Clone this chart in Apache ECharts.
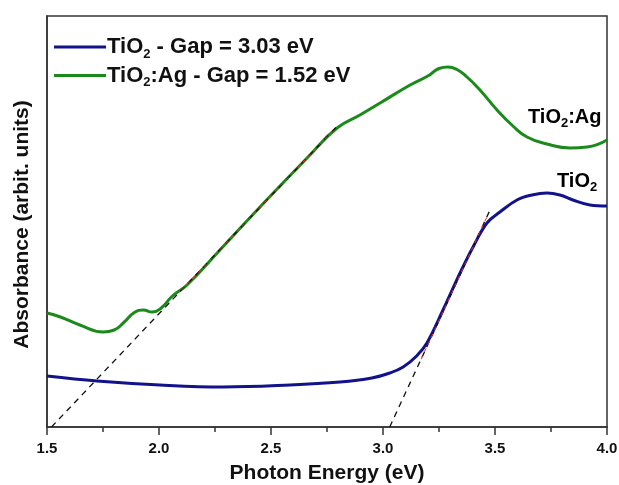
<!DOCTYPE html>
<html>
<head>
<meta charset="utf-8">
<script src="https://cdn.jsdelivr.net/npm/echarts@6/dist/echarts.min.js"></script>
<style>
  html, body { margin: 0; padding: 0; background: #fff; }
</style>
</head>
<body>
<div id="chart" style="width: 619px;height: 485px;"></div>
<script>
// photon energy (eV) / absorbance (arb. units)
var energyAg = [1.5, 1.56, 1.647, 1.75, 1.80, 1.845, 1.89, 1.93, 1.97, 2.01, 2.06, 2.125, 2.272, 2.451, 2.661, 2.795, 2.897, 2.987, 3.121, 3.2, 3.25, 3.29, 3.33, 3.375, 3.433, 3.509, 3.58, 3.643, 3.732, 3.835, 3.911, 4.0]
var absAg = [1.14, 1.10, 1.02, 0.95, 0.97, 1.05, 1.145, 1.17, 1.15, 1.19, 1.31, 1.42, 1.77, 2.20, 2.69, 2.99, 3.12, 3.24, 3.42, 3.51, 3.585, 3.60, 3.575, 3.50, 3.37, 3.17, 3.01, 2.90, 2.83, 2.79, 2.80, 2.87]
var energyTi = [1.5, 1.723, 2.004, 2.286, 2.585, 2.808, 2.95, 3.031, 3.09, 3.15, 3.196, 3.268, 3.344, 3.402, 3.464, 3.522, 3.598, 3.665, 3.732, 3.79, 3.848, 3.924, 4.0]
var absTi = [0.51, 0.46, 0.42, 0.40, 0.42, 0.45, 0.49, 0.54, 0.60, 0.71, 0.84, 1.17, 1.54, 1.80, 2.04, 2.15, 2.27, 2.32, 2.34, 2.32, 2.27, 2.22, 2.21]

// Tauc extrapolation lines [x, y] end points
var tangentAg = [[1.52, 0], [2.80, 3.02]]
var tangentTi = [[3.03, 0], [3.482, 2.19]]
var fitAg = [[2.10, 1.368], [2.78, 2.973]]
var fitTi = [[3.17, 0.678], [3.47, 2.13]]

var legendNames = ['TiO2 - Gap = 3.03 eV', 'TiO2:Ag - Gap = 1.52 eV']
var legendRich = {
  'TiO2 - Gap = 3.03 eV': '{a|TiO}{s|2}{a| - Gap = 3.03 eV}',
  'TiO2:Ag - Gap = 1.52 eV': '{a|TiO}{s|2}{a|:Ag - Gap = 1.52 eV}'
}

var blue = '#12138a'
var green = '#1a8a1a'
var font = 'Liberation Sans, Arial, sans-serif'

function pairs(xs, ys) {
  return xs.map(function(x, i) { return [x, ys[i]] })
}

var legMain = { fontSize: 22, fontWeight: 'bold', fontFamily: font, color: '#111', lineHeight: 27 }
var legSub = { fontSize: 13, fontWeight: 'bold', fontFamily: font, color: '#111', lineHeight: 13, verticalAlign: 'bottom' }
var lblMain = { fontSize: 20, fontWeight: 'bold', fontFamily: font, color: '#111', lineHeight: 26 }
var lblSub = { fontSize: 13, fontWeight: 'bold', fontFamily: font, color: '#111', lineHeight: 13, verticalAlign: 'bottom' }

var option = {
  animation: false,
  grid: {
    left: 47,
    right: 12,
    top: 16,
    bottom: 58,
    outerBoundsMode: 'none',
    show: true,
    borderColor: '#333',
    borderWidth: 1.5
  },
  legend: {
    data: legendNames,
    orient: 'vertical',
    left: 49,
    top: 31,
    itemWidth: 52,
    itemHeight: 3,
    itemGap: 4,
    icon: 'rect',
    formatter: function(name) { return legendRich[name] },
    textStyle: {
      padding: [0, 0, 0, -4],
      rich: { a: legMain, s: legSub }
    }
  },
  xAxis: {
    type: 'value',
    min: 1.5,
    max: 4.0,
    interval: 0.5,
    name: 'Photon Energy (eV)',
    nameLocation: 'middle',
    nameGap: 36,
    nameTextStyle: { fontSize: 21, fontWeight: 'bold', fontFamily: font, color: '#111' },
    axisLine: { lineStyle: { color: '#333', width: 1.5 } },
    axisTick: { show: true, length: 8, lineStyle: { color: '#333', width: 1.5 } },
    minorTick: { show: true, splitNumber: 2, length: 5, lineStyle: { color: '#333', width: 1.5 } },
    axisLabel: {
      margin: 14,
      fontSize: 15,
      fontWeight: 'bold',
      fontFamily: font,
      color: '#111',
      formatter: function(v) { return v.toFixed(1) }
    },
    splitLine: { show: false }
  },
  yAxis: {
    type: 'value',
    min: 0,
    max: 4.11,
    name: 'Absorbance (arbit. units)',
    nameLocation: 'middle',
    nameGap: 14,
    nameTextStyle: { fontSize: 21, fontWeight: 'bold', fontFamily: font, color: '#111', padding: [0, 6, 0, 0] },
    axisLine: { show: true, lineStyle: { color: '#333', width: 1.5 } },
    axisTick: { show: false },
    axisLabel: { show: false },
    splitLine: { show: false }
  },
  series: [
    {
      name: legendNames[0],
      type: 'line',
      data: pairs(energyTi, absTi),
      smooth: 0.4,
      showSymbol: false,
      lineStyle: { color: blue, width: 3 },
      itemStyle: { color: blue },
      z: 3
    },
    {
      name: legendNames[1],
      type: 'line',
      data: pairs(energyAg, absAg),
      smooth: 0.5,
      showSymbol: false,
      lineStyle: { color: green, width: 3 },
      itemStyle: { color: green },
      z: 3
    },
    {
      type: 'line',
      data: tangentAg,
      showSymbol: false,
      silent: true,
      lineStyle: { color: '#111', width: 1.3, type: [6, 5] },
      z: 4
    },
    {
      type: 'line',
      data: tangentTi,
      showSymbol: false,
      silent: true,
      lineStyle: { color: '#111', width: 1.3, type: [6, 5] },
      z: 4
    },
    {
      type: 'line',
      data: fitAg,
      showSymbol: false,
      silent: true,
      lineStyle: { color: '#e03030', width: 1, type: [4, 4] },
      z: 5
    },
    {
      type: 'line',
      data: fitTi,
      showSymbol: false,
      silent: true,
      lineStyle: { color: '#e03030', width: 1, type: [4, 4] },
      z: 5
    }
  ],
  graphic: [
    {
      type: 'text',
      left: 528,
      top: 107,
      style: {
        text: '{a|TiO}{s|2}{a|:Ag}',
        rich: { a: lblMain, s: lblSub }
      }
    },
    {
      type: 'text',
      left: 557,
      top: 171,
      style: {
        text: '{a|TiO}{s|2}',
        rich: { a: lblMain, s: lblSub }
      }
    }
  ]
}

var chart = echarts.init(document.getElementById('chart'))
chart.setOption(option)
</script>
</body>
</html>
